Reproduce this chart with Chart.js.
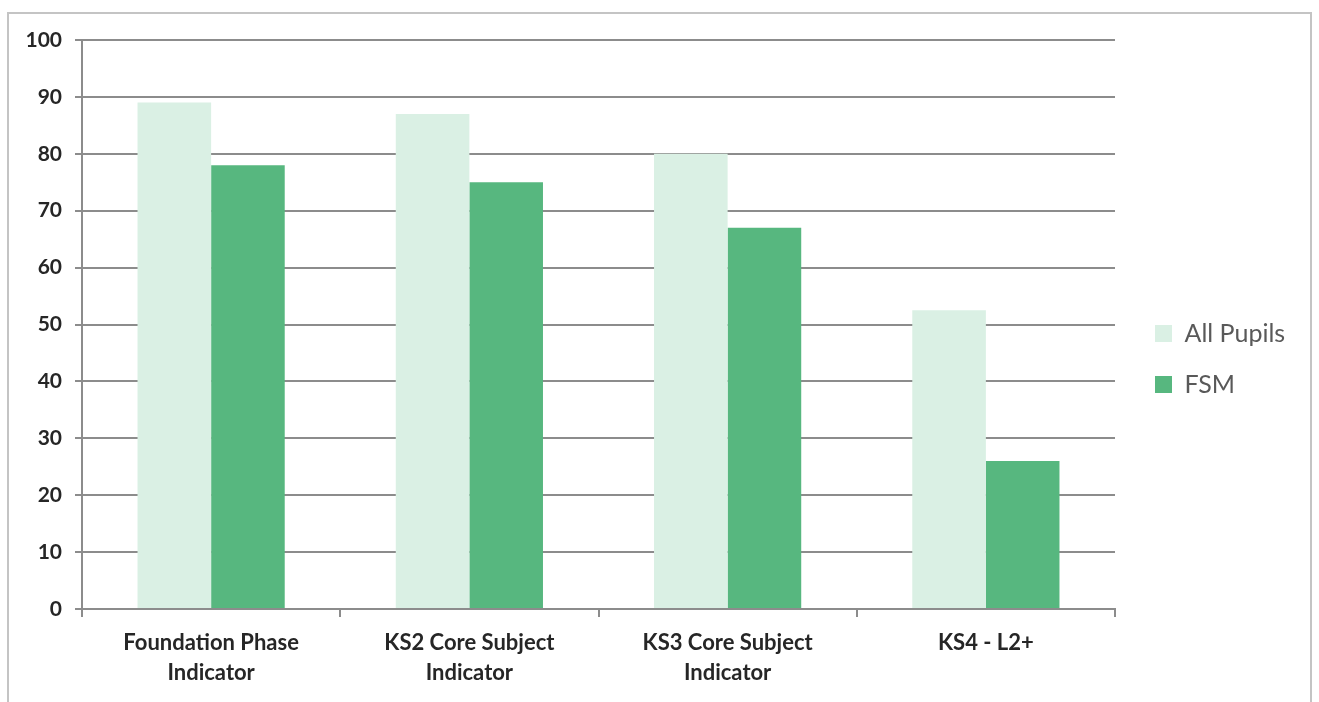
<!DOCTYPE html>
<html>
<head>
<meta charset="utf-8">
<script src="https://cdn.jsdelivr.net/npm/chart.js@4.4.0/dist/chart.umd.min.js"></script>
<style>
  html, body { margin: 0; padding: 0; background: #fff; }
  #frame {
    position: absolute; left: 7px; top: 12px; width: 1301px; height: 720px;
    border: 2px solid #c4c4c4; pointer-events: none;
  }
  #chart { position: absolute; left: 0; top: 0; }
</style>
</head>
<body>
<canvas id="chart" width="1319" height="702"></canvas>
<div id="frame"></div>
<script>
const categories = [
  ['Foundation Phase', 'Indicator'],
  ['KS2 Core Subject', 'Indicator'],
  ['KS3 Core Subject', 'Indicator'],
  'KS4 - L2+'
]
const allPupils = [89, 87, 80, 52.5]
const fsm = [78, 75, 67, 26]
const seriesNames = ['All Pupils', 'FSM']

// keep the legend column as wide as in the Excel picture, then nudge it
const legendShift = {
  id: 'legendShift',
  afterInit(chart) {
    const lg = chart.legend
    const fit = lg.fit
    lg.fit = function () {
      fit.call(this)
      this.width = 204
    }
  },
  afterLayout(chart) {
    const lg = chart.legend
    lg.left += 14; lg.right += 14
    lg.top -= 12; lg.bottom -= 12
  }
}

const ctx = document.getElementById('chart').getContext('2d')
const myChart = new Chart(ctx, {
  type: 'bar',
  data: {
    labels: categories,
    datasets: [{
      label: seriesNames[0],
      data: allPupils,
      backgroundColor: '#daf0e4',
      barPercentage: 1,
      categoryPercentage: 0.57
    }, {
      label: seriesNames[1],
      data: fsm,
      backgroundColor: '#57b77f',
      barPercentage: 1,
      categoryPercentage: 0.57
    }]
  },
  options: {
    responsive: false,
    animation: false,
    layout: { padding: { top: 40, left: 0, right: 0, bottom: 0 } },
    plugins: {
      tooltip: { enabled: false },
      legend: {
        position: 'right',
        labels: {
          boxWidth: 17,
          boxHeight: 17,
          padding: 26,
          color: '#595959',
          font: { family: 'Lato', size: 25 }
        }
      }
    },
    scales: {
      x: {
        grid: {
          offset: true,
          drawOnChartArea: false,
          drawTicks: true,
          tickLength: 8,
          color: '#8c8c8c',
          lineWidth: 2
        },
        border: { color: '#8c8c8c', width: 2 },
        ticks: {
          padding: 11,
          color: '#262626',
          maxRotation: 0,
          font: { family: 'Lato', size: 22, weight: 'bold', lineHeight: 1.36 }
        },
        afterFit(scale) { scale.height = 93 }
      },
      y: {
        min: 0,
        max: 100,
        ticks: {
          stepSize: 10,
          padding: 13,
          color: '#262626',
          font: { family: 'Lato', size: 21, weight: 'bold' }
        },
        grid: {
          color: '#8c8c8c',
          lineWidth: 2,
          tickLength: 7
        },
        border: { color: '#8c8c8c', width: 2 },
        afterFit(scale) { scale.width = 82 }
      }
    }
  },
  plugins: [legendShift]
})
</script>
</body>
</html>
